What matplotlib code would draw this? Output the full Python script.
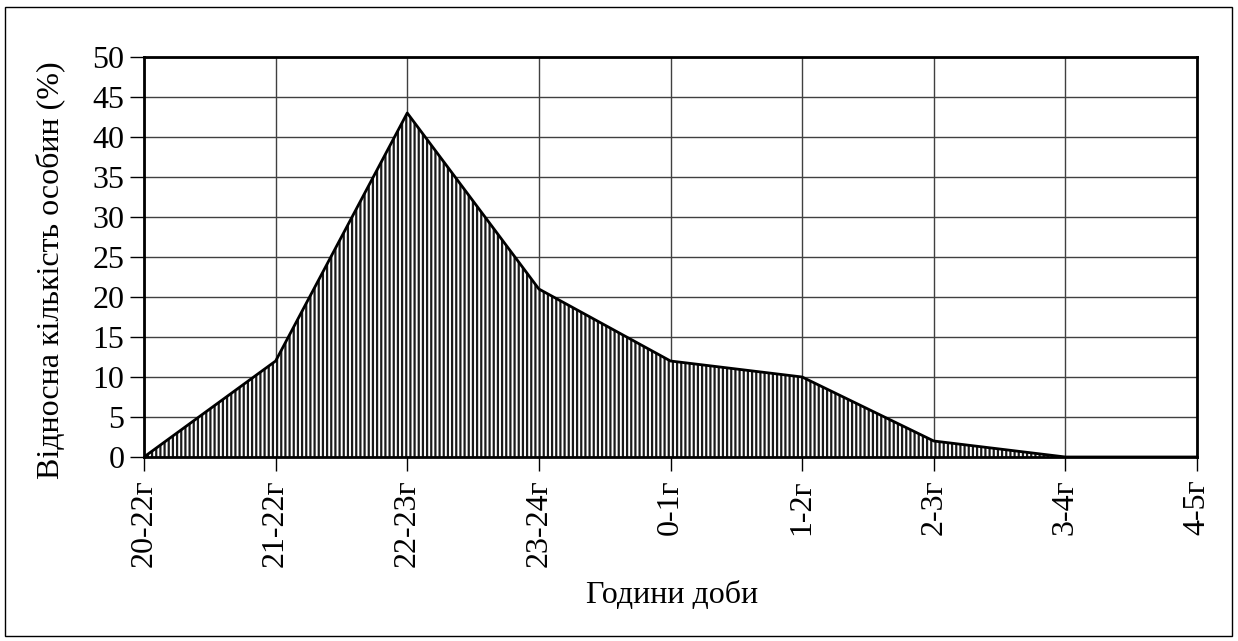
import matplotlib
matplotlib.use("Agg")
import matplotlib.pyplot as plt
from matplotlib.patches import Rectangle

hours = ["20-22г", "21-22г", "22-23г", "23-24г", "0-1г", "1-2г", "2-3г", "3-4г", "4-5г"]
share = [0, 12, 43, 21, 12, 10, 2, 0, 0]

plt.rcParams['font.family'] = ['Liberation Serif', 'DejaVu Serif']
plt.rcParams['hatch.linewidth'] = 1.6
plt.rcParams['hatch.color'] = '#1a1a1a'

W, H = 1238, 641
fig = plt.figure(figsize=(W / 100, H / 100), dpi=100)
ax = fig.add_axes([144 / W, 1 - 457 / H, (1197 - 144) / W, 400 / H])

x = list(range(len(hours)))
ax.fill_between(x, share, 0, facecolor='white', edgecolor='#1a1a1a', hatch='||||', linewidth=0, zorder=2)
ax.plot(x, share, color='black', lw=2, zorder=3)

ax.set_xlim(0, len(hours) - 1)
ax.set_ylim(0, 50)
ax.set_yticks(range(0, 51, 5))
ax.set_xticks(x)
ax.set_xticklabels(hours, rotation=90, fontsize=23)
ax.tick_params(axis='y', labelsize=23, length=10, width=1, direction='out', pad=4)
ax.tick_params(axis='x', length=10, width=1, direction='out', pad=6)
ax.grid(True, color='#404040', lw=1, zorder=1)
ax.set_axisbelow(True)
for s in ax.spines.values():
    s.set_linewidth(2)
    s.set_zorder(4)

fig.text(50 / W, 1 - 270 / H, "Відносна кількість особин (%)", fontsize=23,
         rotation=90, ha='center', va='center')
fig.text(672 / W, 1 - 603 / H, "Години доби", fontsize=23, ha='center', va='baseline')

fig.patches.append(Rectangle((5 / W, 5 / H), 1227 / W, 629 / H, transform=fig.transFigure,
                             fill=False, edgecolor='black', lw=1))

fig.savefig("out.png", dpi=100)
